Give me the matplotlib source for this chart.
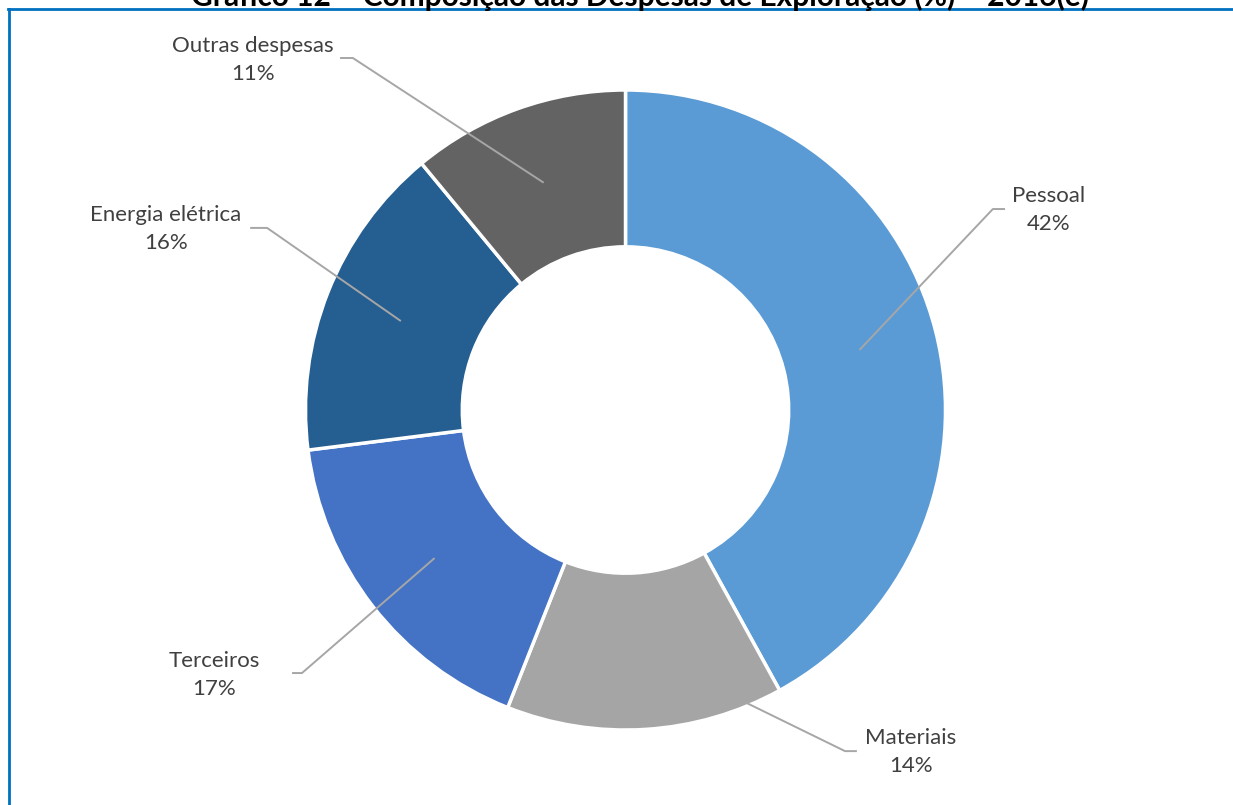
import matplotlib.pyplot as plt
import numpy as np

# ---
# Data: expense shares (%).
categorias = ["Pessoal", "Materiais", "Terceiros", "Energia elétrica", "Outras despesas"]
valores = [42, 14, 17, 16, 11]
cores = ["#5B9BD5", "#A5A5A5", "#4472C4", "#255E91", "#636363"]
titulo = "Gráfico 12 – Composição das Despesas de Exploração (%) – 2016(e)"

# Label layout (data units, pie radius = 1): text centre, elbow, line end.
pos_texto = [(1.323, 0.625), (0.892, -1.069), (-1.286, -0.828), (-1.436, 0.566), (-1.164, 1.094)]
pos_cotovelo = [(1.148, 0.628), (0.686, -1.066), (-1.011, -0.822), (-1.120, 0.569), (-0.852, 1.100)]
pos_fim = [(1.186, 0.628), (0.723, -1.066), (-1.042, -0.822), (-1.173, 0.569), (-0.892, 1.100)]

# ---
W, H, DPI = 1233, 805, 100
cx, cy, esc = 625.5, 410, 320  # pie centre in pixels and pixels per unit

fig = plt.figure(figsize=(W / DPI, H / DPI), dpi=DPI)
ax = fig.add_axes([0, 0, 1, 1])

wedges, _ = ax.pie(valores, colors=cores, startangle=90, counterclock=False,
                   radius=1, wedgeprops=dict(width=0.49, edgecolor="white", linewidth=2.5))

# pie() resets the limits, so set them afterwards.
ax.set_xlim(-cx / esc, (W - cx) / esc)
ax.set_ylim(-(H - cy) / esc, cy / esc)
ax.set_aspect("equal")
ax.axis("off")

# Leader lines and labels.
total = sum(valores)
acum = 0
for i, v in enumerate(valores):
    meio = 90 - (acum + v / 2) / total * 360
    acum += v
    px = 0.755 * np.cos(np.radians(meio))
    py = 0.755 * np.sin(np.radians(meio))
    xs = [px, pos_cotovelo[i][0], pos_fim[i][0]]
    ys = [py, pos_cotovelo[i][1], pos_fim[i][1]]
    ax.plot(xs, ys, color="#A6A6A6", lw=1.4, solid_capstyle="butt")
    ax.text(pos_texto[i][0], pos_texto[i][1], "%s\n%d%%" % (categorias[i], v),
            ha="center", va="center", fontsize=16, color="#404040",
            family="Lato", linespacing=1.5)

# Title (cut off at the top in the original) and frame.
fig.text(640 / W, 1 - 6 / H, titulo, ha="center", va="baseline",
         fontsize=21.5, fontweight="bold", family="Lato", color="black")
fig.add_artist(plt.Line2D([8 / W, 1], [1 - 9 / H, 1 - 9 / H], color="#0070C0", lw=2))
fig.add_artist(plt.Line2D([8.5 / W, 8.5 / W], [0, 1 - 9 / H], color="#0070C0", lw=2))

fig.savefig("out.png", dpi=DPI)
